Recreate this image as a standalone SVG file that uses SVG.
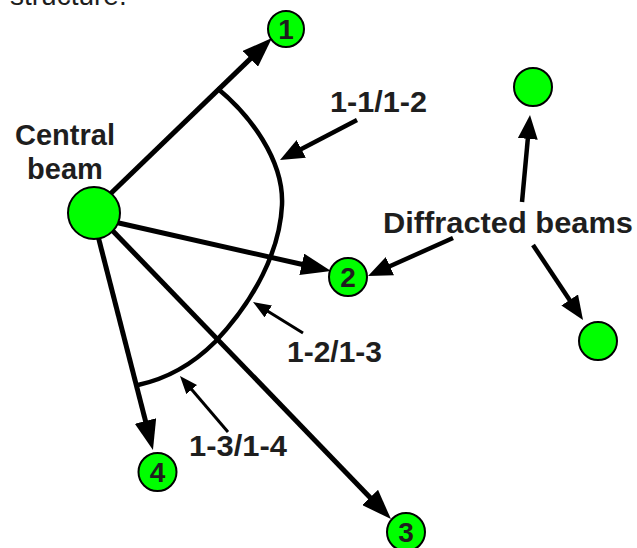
<svg xmlns="http://www.w3.org/2000/svg" width="637" height="548" viewBox="0 0 637 548">
<style>
.t{font-family:"Liberation Sans",Arial,sans-serif;font-weight:bold;font-size:29px;fill:#1e1e1e}
.num{font-family:"Liberation Sans",Arial,sans-serif;font-weight:bold;font-size:28px;fill:#1e1e1e;text-anchor:middle}
.dot{fill:#00ff00;stroke:#000;stroke-width:2}
.main{stroke:#000;stroke-width:5;fill:none;marker-end:url(#hm)}
.ptr{stroke:#000;stroke-width:4.5;fill:none;marker-end:url(#hp)}
.thin{stroke:#000;stroke-width:3;fill:none;marker-end:url(#ht)}
</style>
<defs>
<marker id="hm" markerUnits="userSpaceOnUse" markerWidth="30" markerHeight="22" refX="2" refY="11" orient="auto"><path d="M0,0 L30,11 L0,22 z" fill="#000"/></marker>
<marker id="hp" markerUnits="userSpaceOnUse" markerWidth="24" markerHeight="20" refX="2" refY="10" orient="auto"><path d="M0,0 L24,10 L0,20 z" fill="#000"/></marker>
<marker id="ht" markerUnits="userSpaceOnUse" markerWidth="18" markerHeight="14" refX="2" refY="7" orient="auto"><path d="M0,0 L18,7 L0,14 z" fill="#000"/></marker>
</defs>
<rect width="637" height="548" fill="#fff"/>
<text x="10" y="5" style="font-family:'Liberation Sans',Arial,sans-serif;font-size:28px;fill:#1e1e1e">structure.</text>
<g id="connectors">
<path d="M217,88 C250,115 284,160 282,205 C280,250 255,300 215,342 C195,362 170,378 138,385" stroke="#000" stroke-width="4.5" fill="none"/>
<line class="main" x1="104" y1="200" x2="251.8" y2="57.4"/>
<line class="main" x1="110" y1="221" x2="303.7" y2="264.8"/>
<line class="main" x1="110" y1="228" x2="371.5" y2="498.9"/>
<line class="main" x1="98" y1="236" x2="146" y2="422.9"/>
<line class="ptr" x1="357" y1="120" x2="299.5" y2="149.9"/>
<line class="ptr" x1="453" y1="238" x2="388.1" y2="267"/>
<line class="ptr" x1="522" y1="202" x2="528" y2="136.9"/>
<line class="ptr" x1="533" y1="245" x2="570.8" y2="301.7"/>
<line class="thin" x1="303" y1="333" x2="266.6" y2="310.4"/>
<line class="thin" x1="228" y1="432" x2="190.4" y2="388.1"/>
</g>
<g id="central"><circle class="dot" cx="94" cy="213" r="26"/><text class="t" x="65" y="145" text-anchor="middle">Central</text><text class="t" x="65" y="179" text-anchor="middle">beam</text></g>
<g id="n1"><circle class="dot" cx="286" cy="29" r="18"/><text class="num" x="286" y="39">1</text></g>
<g id="n2"><circle class="dot" cx="348" cy="277" r="19"/><text class="num" x="348" y="287">2</text></g>
<g id="n3"><circle class="dot" cx="406" cy="532" r="19"/><text class="num" x="406" y="542">3</text></g>
<g id="n4"><circle class="dot" cx="157.5" cy="472" r="19"/><text class="num" x="157.5" y="482">4</text></g>
<g id="n5"><circle class="dot" cx="533" cy="87" r="19"/></g>
<g id="n6"><circle class="dot" cx="598" cy="341" r="19"/></g>
<g id="lbl1"><text class="t" x="330" y="112" textLength="97" lengthAdjust="spacingAndGlyphs">1-1/1-2</text></g>
<g id="lbl2"><text class="t" x="287" y="362" textLength="95" lengthAdjust="spacingAndGlyphs">1-2/1-3</text></g>
<g id="lbl3"><text class="t" x="189" y="456" textLength="98" lengthAdjust="spacingAndGlyphs">1-3/1-4</text></g>
<g id="lbl4"><text class="t" x="383" y="233" textLength="250" lengthAdjust="spacingAndGlyphs">Diffracted beams</text></g>
</svg>
